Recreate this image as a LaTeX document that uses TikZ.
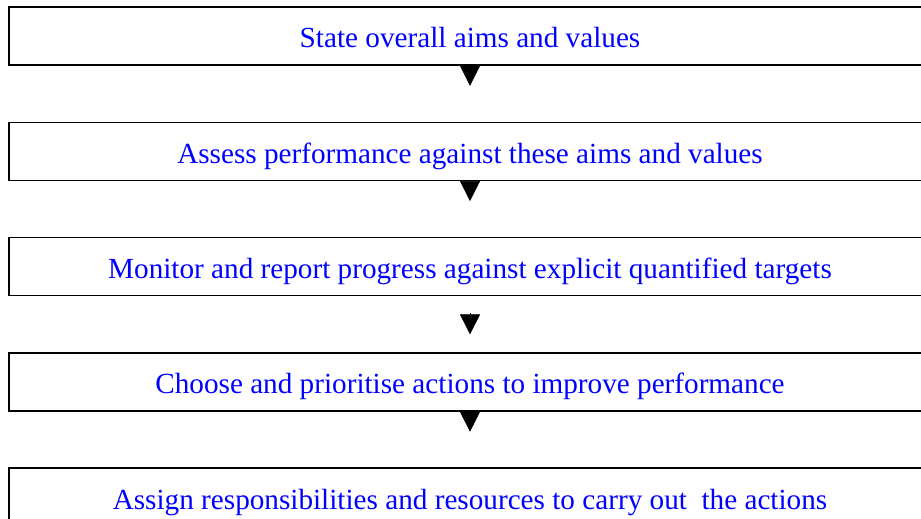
\documentclass[tikz,border=0pt]{standalone}
\usepackage{fontspec}
\setmainfont{Liberation Serif}
\usetikzlibrary{arrows.meta, positioning}

\begin{document}
\begin{tikzpicture}[node distance={115.3pt}, main/.style = {draw, line width=1.6pt, minimum width=922pt, minimum height=58pt, inner sep=0pt, text height=24pt, text depth=0pt, text=blue, font=\fontsize{29.2}{34}\selectfont}, down/.style = {-{Triangle[length=20pt, width=20pt]}, line width=0.6pt}]
    \useasboundingbox (0,0) rectangle (921pt,-519pt);
    \node[main] (1) at (470pt,-36pt)  {State overall aims and values};
    \node[main] (2) [below of=1]      {Assess performance against these aims and values};
    \node[main] (3) [below of=2]      {Monitor and report progress against explicit quantified targets};
    \node[main] (4) [below of=3]      {Choose and prioritise actions to improve performance};
    \node[main] (5) [below of=4]      {Assign responsibilities and resources to carry out\ \ the actions};

    \coordinate[below=20pt of 1.south] (e1);
    \coordinate[below=20pt of 2.south] (e2);
    \coordinate[below=17pt of 3.south] (s3);
    \coordinate[below=38pt of 3.south] (e3);
    \coordinate[below=20pt of 4.south] (e4);

    \draw[down] (1.south) -- (e1);
    \draw[down] (2.south) -- (e2);
    \draw[down] (s3) -- (e3);
    \draw[down] (4.south) -- (e4);
\end{tikzpicture}
\end{document}
